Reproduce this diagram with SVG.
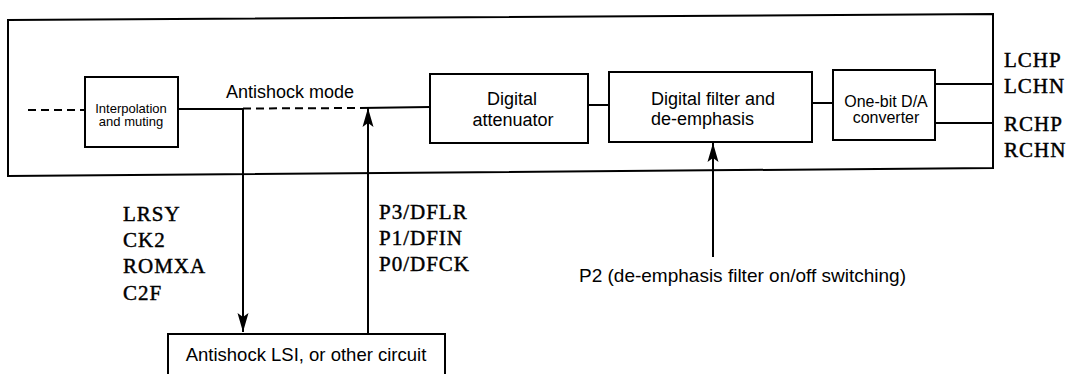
<svg xmlns="http://www.w3.org/2000/svg" width="1072" height="374" viewBox="0 0 1072 374">
<style>
.box{fill:#fff;stroke:#000;stroke-width:2}
.ln{fill:none;stroke:#000;stroke-width:2}
.dash{fill:none;stroke:#000;stroke-width:2;stroke-dasharray:8 5}
.sans{font-family:"Liberation Sans",Arial,sans-serif;fill:#000}
.serif{font-family:"Liberation Serif","Times New Roman",serif;font-size:21px;letter-spacing:1px;fill:#000;stroke:#000;stroke-width:0.45}
</style>
<defs>
<marker id="ah" markerWidth="20" markerHeight="12" refX="19" refY="6" orient="auto" markerUnits="userSpaceOnUse">
<path d="M19,6 L0,0.5 L4,6 L0,11.5 Z" fill="#000"/>
</marker>
</defs>
<g id="outer"><polygon class="box" points="8,20 993,14 993,168 8,176" style="fill:none"/></g>
<g id="connectors">
<line class="dash" x1="28" y1="110" x2="85" y2="110"/>
<line class="ln" x1="178" y1="109" x2="243" y2="109"/>
<line class="dash" x1="243" y1="108.5" x2="360" y2="108"/>
<line class="ln" x1="360" y1="108" x2="430" y2="107"/>
<line class="ln" x1="588" y1="105" x2="609" y2="105"/>
<line class="ln" x1="812" y1="103" x2="833" y2="103"/>
<line class="ln" x1="935" y1="84" x2="993" y2="84"/>
<line class="ln" x1="935" y1="123" x2="993" y2="123"/>
<line class="ln" x1="243" y1="109" x2="243" y2="332" marker-end="url(#ah)"/>
<line class="ln" x1="368" y1="334" x2="368" y2="108" marker-end="url(#ah)"/>
<line class="ln" x1="713" y1="257" x2="713" y2="143" marker-end="url(#ah)"/>
</g>
<g id="interp">
<rect class="box" x="85" y="77" width="93" height="70"/>
<text class="sans" font-size="13" text-anchor="middle"><tspan x="131" y="113">Interpolation</tspan><tspan x="131" y="126">and muting</tspan></text>
</g>
<g id="mode-label"><text class="sans" font-size="18" x="290" y="98" text-anchor="middle">Antishock mode</text></g>
<g id="atten">
<rect class="box" x="430" y="74" width="158" height="69"/>
<text class="sans" font-size="18" text-anchor="middle"><tspan x="512" y="105">Digital</tspan><tspan x="513" y="126">attenuator</tspan></text>
</g>
<g id="filter">
<rect class="box" x="609" y="72" width="203" height="70"/>
<text class="sans" font-size="18"><tspan x="651" y="105">Digital filter and</tspan><tspan x="651" y="125">de-emphasis</tspan></text>
</g>
<g id="dac">
<rect class="box" x="833" y="70" width="102" height="70"/>
<text class="sans" font-size="16" text-anchor="middle"><tspan x="886" y="107">One-bit D/A</tspan><tspan x="886" y="123">converter</tspan></text>
</g>
<g id="outputs">
<text class="serif"><tspan x="1004" y="67">LCHP</tspan><tspan x="1004" y="93">LCHN</tspan><tspan x="1004" y="131">RCHP</tspan><tspan x="1004" y="157">RCHN</tspan></text>
</g>
<g id="left-signals">
<text class="serif"><tspan x="123" y="221">LRSY</tspan><tspan x="123" y="247">CK2</tspan><tspan x="123" y="273">ROMXA</tspan><tspan x="123" y="300">C2F</tspan></text>
</g>
<g id="right-signals">
<text class="serif"><tspan x="379" y="219">P3/DFLR</tspan><tspan x="379" y="245">P1/DFIN</tspan><tspan x="379" y="271">P0/DFCK</tspan></text>
</g>
<g id="p2-label"><text class="sans" font-size="19" x="579" y="282">P2 (de-emphasis filter on/off switching)</text></g>
<g id="lsi">
<rect class="box" x="168" y="334" width="277" height="50"/>
<text class="sans" font-size="18.5" x="306" y="361" text-anchor="middle">Antishock LSI, or other circuit</text>
</g>
</svg>
